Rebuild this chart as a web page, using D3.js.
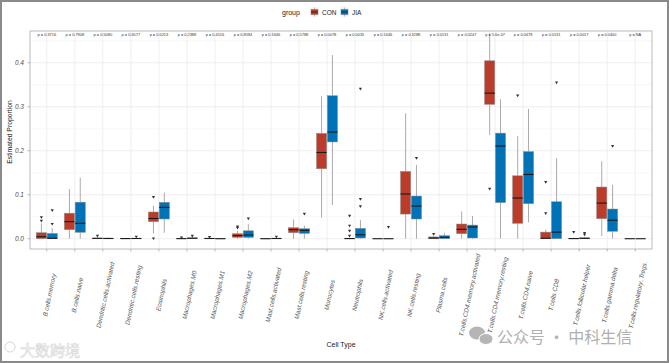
<!DOCTYPE html>
<html><head><meta charset="utf-8">
<script src="https://cdn.jsdelivr.net/npm/d3@7"></script>
<style>body{margin:0;background:#fff;} svg{display:block;font-family:"Liberation Sans",Arial,sans-serif;}</style>
</head><body>
<script>
const categories = ["B.cells.memory","B.cells.naive","Dendritic.cells.activated","Dendritic.cells.resting","Eosinophils","Macrophages.M0","Macrophages.M1","Macrophages.M2","Mast.cells.activated","Mast.cells.resting","Monocytes","Neutrophils","NK.cells.activated","NK.cells.resting","Plasma.cells","T.cells.CD4.memory.activated","T.cells.CD4.memory.resting","T.cells.CD4.naive","T.cells.CD8","T.cells.follicular.helper","T.cells.gamma.delta","T.cells.regulatory..Tregs."];
const pLabels = ["p = 0.3716","p = 0.7908","p = 0.5080","p = 0.6577","p = 0.0213","p = 0.2388","p = 0.4516","p = 0.8594","p = 0.1646","p = 0.5788","p = 0.0078","p = 0.0035","p = 0.1646","p = 0.3288","p = 0.0131","p = 0.0247","p = 5.6e-07","p = 0.0478","p = 0.0131","p = 0.0017","p = 0.0400","p = NA"];
const groups = ["CON","JIA"];
// [lower whisker, q1, median, q3, upper whisker]
const conStats = [
 [0,0,0.0045,0.0136,0.035],[0,0.0205,0.0387,0.058,0.113],[0,0,0.0008,0.0015,0.003],[0,0,0.0003,0.0008,0.0015],
 [0.012,0.0387,0.046,0.0607,0.075],[0,0,0.0002,0.0005,0.001],[0,0,0.0005,0.001,0.002],[0,0.003,0.007,0.0114,0.018],
 [0,0,0,0.0005,0.001],[0,0.0136,0.0205,0.025,0.044],[0.048,0.159,0.196,0.2395,0.324],[0,0,0.0003,0.001,0.002],
 [0,0,0,0,0],[0,0.056,0.1016,0.153,0.285],[0,0,0.0015,0.004,0.006],[0,0.0114,0.0213,0.0334,0.062],
 [0.2357,0.3055,0.331,0.4045,0.467],[0,0.035,0.0925,0.143,0.2334],[0,0,0.001,0.015,0.021],[0,0,0.0003,0.001,0.002],
 [0.006,0.0455,0.081,0.1175,0.176],[0,0,0,0,0]];
const conOutliers = [[0.040,0.048],[],[0.006],[],[0,0.094],[0.002],[0.003],[0.024,0.027],[],[],[],[0.006,0.0175,0.029,0.0516],
 [],[],[0.01],[],[0.113],[0.325],[0.057,0.128],[0.0145],[],[]];
const jiaStats = [
 [0,0,0.001,0.012,0.024],[0,0.0145,0.035,0.083,0.139],[0,0,0.0005,0.0012,0.0025],[0,0,0.0005,0.001,0.002],
 [0.0136,0.0448,0.0713,0.0827,0.105],[0,0.0005,0.001,0.002,0.004],[0,0,0,0.0003,0.0005],[0,0.003,0.0084,0.018,0.033],
 [0,0,0.0005,0.001,0.002],[0,0.012,0.019,0.0227,0.0295],[0.0766,0.22,0.2425,0.325,0.4175],[0,0.0016,0.009,0.0236,0.0425],
 [0,0,0,0,0],[0,0.0448,0.0743,0.097,0.1675],[0,0,0.003,0.007,0.0136],[0,0.0016,0.0266,0.031,0.0516],
 [0,0.082,0.2107,0.240,0.317],[0.037,0.0796,0.146,0.198,0.295],[0,0,0.015,0.084,0.1827],[0,0,0.0008,0.002,0.004],
 [0,0.0168,0.042,0.0675,0.1227],[0,0,0,0,0]];
const jiaOutliers = [[0.033,0.064],[],[],[0.004],[],[0.006],[],[0.045],[0.004],[0.056],[],[0.073,0.0895,0.340],
 [0.026],[0.1827],[],[],[],[],[0.3545],[0.009,0.0125],[0.21],[]];
const yTicks = [0.0,0.1,0.2,0.3,0.4];
const colors = {CON:"#BC3C29", JIA:"#0072B5"};

const W=669,H=363;
const svg=d3.select("body").append("svg").attr("width",W).attr("height",H);
svg.append("rect").attr("x",1).attr("y",1).attr("width",W-2).attr("height",H-2).attr("fill","#fff").attr("stroke","#8a8a8a").attr("stroke-width",2);

const pl=30,pr=652,pt=31,pb=249;
const x=d3.scalePoint().domain(categories).range([pl,pr]).padding(0.6);
const y=d3.scaleLinear().domain([-0.0234,0.4722]).range([pb,pt]);
const step=x.step();
const sub=d3.scaleBand().domain(groups).range([-step*0.375,step*0.375]).paddingInner(0.06);

const g=svg.append("g");
// grid
const minor=d3.range(0.05,0.47,0.1);
g.selectAll(".gm").data(minor).join("line").attr("x1",pl).attr("x2",pr).attr("y1",d=>y(d)).attr("y2",d=>y(d)).attr("stroke","#f3f3f3").attr("stroke-width",0.6);
g.selectAll(".gy").data(yTicks).join("line").attr("x1",pl).attr("x2",pr).attr("y1",d=>y(d)).attr("y2",d=>y(d)).attr("stroke","#ebebeb").attr("stroke-width",0.8);
g.selectAll(".gx").data(categories).join("line").attr("x1",d=>x(d)).attr("x2",d=>x(d)).attr("y1",pt).attr("y2",pb).attr("stroke","#ebebeb").attr("stroke-width",0.8);

// boxes
function drawGroup(name,stats,outs){
  const gg=g.append("g");
  categories.forEach((c,i)=>{
    const s=stats[i];
    const x0=x(c)+sub(name), bw=sub.bandwidth(), xc=x0+bw/2;
    gg.append("line").attr("x1",xc).attr("x2",xc).attr("y1",y(s[4])).attr("y2",y(s[3])).attr("stroke","#a0a0a0").attr("stroke-width",0.9);
    gg.append("line").attr("x1",xc).attr("x2",xc).attr("y1",y(s[1])).attr("y2",y(s[0])).attr("stroke","#a0a0a0").attr("stroke-width",0.9);
    gg.append("rect").attr("x",x0).attr("width",bw).attr("y",y(s[3])).attr("height",Math.max(0,y(s[1])-y(s[3])))
      .attr("fill",colors[name]).attr("stroke","#8c8c8c").attr("stroke-width",0.5);
    gg.append("line").attr("x1",x0).attr("x2",x0+bw).attr("y1",y(s[2])).attr("y2",y(s[2])).attr("stroke","#1a1a1a").attr("stroke-width",1.1);
    outs[i].forEach(o=>{
      const yy=y(o);
      gg.append("path").attr("d",`M${xc-1.6},${yy-1.3}L${xc+1.6},${yy-1.3}L${xc},${yy+1.4}Z`).attr("fill","#333");
    });
  });
}
drawGroup("CON",conStats,conOutliers);
drawGroup("JIA",jiaStats,jiaOutliers);

// p labels
g.selectAll(".pl").data(categories).join("text").attr("x",d=>x(d)).attr("y",35.5).attr("text-anchor","middle")
 .attr("font-size",3.9).attr("fill","#333").text((d,i)=>pLabels[i]);

// panel border
svg.append("rect").attr("x",pl).attr("y",pt).attr("width",pr-pl).attr("height",pb-pt).attr("fill","none").attr("stroke","#b3b3b3").attr("stroke-width",0.9);

// y axis
const ya=svg.append("g");
yTicks.forEach(t=>{
  ya.append("line").attr("x1",pl-2.5).attr("x2",pl).attr("y1",y(t)).attr("y2",y(t)).attr("stroke","#999").attr("stroke-width",0.7);
  ya.append("text").attr("x",pl-6).attr("y",y(t)+2.3).attr("text-anchor","end").attr("font-size",6.5).attr("font-style","italic").attr("fill","#4d4d4d").text(t.toFixed(1));
});
// x ticks + labels
categories.forEach(c=>{
  svg.append("line").attr("x1",x(c)).attr("x2",x(c)).attr("y1",pb).attr("y2",pb+2.5).attr("stroke","#999").attr("stroke-width",0.7);
  svg.append("text").attr("transform",`translate(${x(c)+2.5},${295}) rotate(-78)`).attr("text-anchor","middle").attr("dy","0.35em")
   .attr("font-size",6.4).attr("font-style","italic").attr("fill","#555").text(c);
});
svg.append("text").attr("x",(pl+pr)/2).attr("y",347).attr("text-anchor","middle").attr("font-size",7).attr("fill","#222").text("Cell Type");
svg.append("text").attr("transform","translate(12,132) rotate(-90)").attr("text-anchor","middle").attr("font-size",6.8).attr("fill","#222").text("Estimated Proportion");

// legend
const lg=svg.append("g");
lg.append("text").attr("x",282).attr("y",15).attr("font-size",7).attr("fill","#222").text("group");
[["CON",310,322],["JIA",340,352]].forEach(([n,kx,tx])=>{
  lg.append("rect").attr("x",kx).attr("y",7.5).attr("width",9).attr("height",9).attr("fill","#f2f2f2");
  lg.append("line").attr("x1",kx+4.5).attr("x2",kx+4.5).attr("y1",7.5).attr("y2",16.5).attr("stroke","#a0a0a0").attr("stroke-width",0.7);
  lg.append("rect").attr("x",kx+1).attr("y",9.3).attr("width",7).attr("height",5.4).attr("fill",colors[n]).attr("stroke","#8c8c8c").attr("stroke-width",0.4);
  lg.append("line").attr("x1",kx+1).attr("x2",kx+8).attr("y1",12).attr("y2",12).attr("stroke","#1a1a1a").attr("stroke-width",0.8);
  lg.append("text").attr("x",tx).attr("y",14.5).attr("font-size",6.5).attr("fill","#222").text(n);
});

// watermarks
svg.append("text").attr("x",20).attr("y",356).attr("font-size",15).attr("font-family","Noto Sans CJK SC").attr("fill","#fff").attr("stroke","#d6d6d6").attr("stroke-width",0.6).text("大数跨境");
svg.append("circle").attr("cx",10).attr("cy",347).attr("r",5).attr("fill","none").attr("stroke","#d6d6d6").attr("stroke-width",1);
const wm=svg.append("g").attr("fill","#b5b5b5");
wm.append("ellipse").attr("cx",477).attr("cy",333).attr("rx",8).attr("ry",6.5);
wm.append("ellipse").attr("cx",486).attr("cy",339).attr("rx",7).attr("ry",5.5).attr("stroke","#fff").attr("stroke-width",1);
svg.append("text").attr("x",497).attr("y",343).attr("font-size",16).attr("font-family","Noto Sans CJK SC").attr("fill","#b0b0b0").text("公众号 · 中科生信");
</script>
</body></html>
